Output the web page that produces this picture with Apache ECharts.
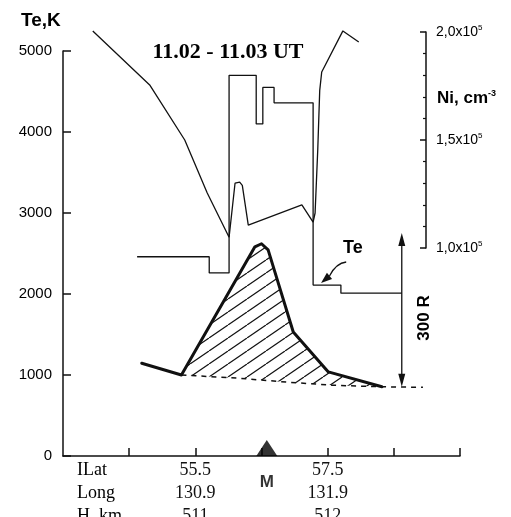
<!DOCTYPE html>
<html><head><meta charset="utf-8">
<script src="https://cdn.jsdelivr.net/npm/echarts@6/dist/echarts.min.js"></script>
<style>html,body{margin:0;padding:0;background:#fff}#c{width:511px;height:517px}</style>
</head><body><div id="c"></div>
<script>
// ---- data (x = invariant latitude ILat, deg) ----
// Electron temperature Te, K (step profile)
const teX = [54.62, 55.71, 56.01, 56.42, 56.52, 56.69, 57.28, 57.70, 58.62];
const teK = [2460, 2260, 4700, 4100, 4550, 4360, 2110, 2010, 2010];
// Ion density Ni, units of 1e5 cm^-3
const niX = [53.95, 54.81, 55.34, 55.68, 56.01, 56.10, 56.17, 56.21, 56.30, 57.11, 57.28, 57.31, 57.35, 57.38, 57.41, 57.73, 57.97];
const niV = [2.005, 1.755, 1.50, 1.255, 1.05, 1.30, 1.305, 1.29, 1.106, 1.20, 1.12, 1.162, 1.454, 1.73, 1.815, 2.005, 1.954];
// Emission intensity, R (bold curve) and background level (dashed)
const emX = [54.69, 55.29, 56.40, 56.50, 56.60, 56.98, 57.51, 58.32];
const emR = [181, 158, 408, 414, 402, 242, 164, 135];
const bgX = [55.29, 56.13, 56.89, 57.58, 58.32, 58.94];
const bgR = [158, 152, 144, 138, 135, 134];
// 300 R scale bar: x, from, to
const barX = 58.62;
const barR = [135, 435];
// axis ticks / labels
const teTicks = [0, 1000, 2000, 3000, 4000, 5000];
const niTicks = [1.0, 1.5, 2.0];
const xTicks = [54.5, 55.5, 56.5, 57.5, 58.5, 59.5];
const ilatLabels = [55.5, 57.5];
const longLabels = ['130.9', '131.9'];
const hLabels = ['511', '512'];
const rowHeads = ['ILat', 'Long', 'H, km'];
// station mark M
const mPos = [56.58, 0];
// "Te" pointer: label, arrow start, arrow tip (ILat, K)
const teLabelAt = [57.88, 2568];
const teArrowFrom = [57.78, 2395];
const teArrowTip = [57.40, 2136];

const SANS = 'Liberation Sans', SERIF = 'Liberation Serif';

// hatch pattern
const hc = document.createElement('canvas');
const HW = 19, HH = 13;
hc.width = HW; hc.height = HH;
const hx = hc.getContext('2d');
hx.strokeStyle = '#111'; hx.lineWidth = 1.2;
for (let k = -1; k <= 1; k++) { hx.beginPath(); hx.moveTo(k * HW, HH); hx.lineTo((k + 1) * HW, 0); hx.stroke(); }
const hatch = { image: hc, repeat: 'repeat' };

const chart = echarts.init(document.getElementById('c'), null, { renderer: 'canvas' });

const option = {
  backgroundColor: '#fff',
  animation: false,
  grid: [
    { left: 63, right: 51, top: 51, bottom: 61, containLabel: false, outerBoundsMode: 'none' },
    { left: 63, right: 51, top: 32, bottom: 269, containLabel: false, outerBoundsMode: 'none' }
  ],
  xAxis: [
    {
      type: 'value', gridIndex: 0, min: 53.5, max: 59.5,
      axisLine: { show: true, lineStyle: { color: '#111', width: 1.5 } },
      axisTick: { show: true, inside: true, length: 8, customValues: xTicks, lineStyle: { color: '#111', width: 1.5 } },
      axisLabel: {
        show: true, customValues: ilatLabels, margin: 3,
        fontFamily: SERIF, fontSize: 18, color: '#111', lineHeight: 23,
        formatter: v => {
          const i = ilatLabels.findIndex(t => Math.abs(t - v) < 1e-6);
          if (i < 0) return '';
          return ilatLabels[i].toFixed(1) + '\n' + longLabels[i] + '\n' + hLabels[i];
        }
      },
      splitLine: { show: false }
    },
    { type: 'value', gridIndex: 1, min: 53.5, max: 59.5, show: false }
  ],
  yAxis: [
    {
      type: 'value', gridIndex: 0, min: 0, max: 5000, interval: 1000,
      axisLine: { show: true, lineStyle: { color: '#111', width: 1.5 } },
      axisTick: { show: true, inside: true, length: 8, lineStyle: { color: '#111', width: 1.5 } },
      axisLabel: { margin: 11, fontFamily: SANS, fontSize: 15, color: '#000', formatter: v => String(v) },
      splitLine: { show: false }
    },
    { type: 'value', gridIndex: 0, min: 0, max: 790, show: false },
    {
      type: 'value', gridIndex: 1, position: 'right', offset: -34, min: 1.0, max: 2.0, interval: 0.5,
      axisLine: { show: true, lineStyle: { color: '#111', width: 1.5 } },
      axisTick: { show: true, inside: true, length: 6, lineStyle: { color: '#111', width: 1.5 } },
      minorTick: { show: true, splitNumber: 5, length: 3, lineStyle: { color: '#111', width: 1.2 } },
      axisLabel: {
        margin: 10, color: '#111',
        formatter: v => '{a|' + v.toFixed(1).replace('.', ',') + 'x10}{s|5}',
        rich: {
          a: { fontFamily: SANS, fontSize: 14, color: '#000', lineHeight: 16 },
          s: { fontFamily: SANS, fontSize: 8, color: '#000', verticalAlign: 'top', lineHeight: 16 }
        }
      },
      splitLine: { show: false }
    }
  ],
  series: [
    {
      name: 'hatch', type: 'custom', xAxisIndex: 0, yAxisIndex: 1, silent: true, z: 1,
      data: [[emX[1], emR[1]]],
      renderItem: (params, api) => {
        const pts = [];
        for (let i = 1; i < emX.length; i++) pts.push(api.coord([emX[i], emR[i]]));
        const xEnd = emX[emX.length - 1];
        for (let i = bgX.length - 1; i >= 0; i--) if (bgX[i] <= xEnd + 1e-6) pts.push(api.coord([bgX[i], bgR[i]]));
        return { type: 'polygon', shape: { points: pts }, style: { fill: hatch, stroke: null } };
      }
    },
    {
      name: 'background', type: 'line', xAxisIndex: 0, yAxisIndex: 1, symbol: 'none', z: 2,
      data: bgX.map((x, i) => [x, bgR[i]]),
      lineStyle: { color: '#111', width: 1.5, type: [5, 5] }
    },
    {
      name: 'emission', type: 'line', xAxisIndex: 0, yAxisIndex: 1, symbol: 'none', z: 3,
      data: emX.map((x, i) => [x, emR[i]]),
      lineStyle: { color: '#111', width: 3, join: 'round', cap: 'round' }
    },
    {
      name: 'Te', type: 'line', xAxisIndex: 0, yAxisIndex: 0, symbol: 'none', step: 'end', z: 4,
      data: teX.map((x, i) => [x, teK[i]]),
      lineStyle: { color: '#111', width: 1.3 }
    },
    {
      name: 'Ni', type: 'line', xAxisIndex: 1, yAxisIndex: 2, symbol: 'none', clip: false, z: 4,
      data: niX.map((x, i) => [x, niV[i]]),
      lineStyle: { color: '#111', width: 1.3 }
    },
    {
      name: 'M', type: 'scatter', xAxisIndex: 0, yAxisIndex: 0, clip: false, z: 6,
      symbol: 'triangle', symbolSize: [21, 16], symbolOffset: [0, -8],
      itemStyle: { color: '#000' },
      data: [mPos],
      label: { show: true, position: 'bottom', distance: 18, formatter: 'M', fontFamily: SANS, fontWeight: 'bold', fontSize: 17, color: '#000' }
    }
  ]
};
chart.setOption(option);

// annotations
const px = p => chart.convertToPixel({ xAxisIndex: 0, yAxisIndex: 0 }, p);
const pr = p => chart.convertToPixel({ xAxisIndex: 0, yAxisIndex: 1 }, p);
const a0 = px(teArrowFrom), a1 = px(teArrowTip), lab = px(teLabelAt);
const dx = a1[0] - a0[0], dy = a1[1] - a0[1];
const len = Math.hypot(dx, dy), ux = dx / len, uy = dy / len;
const headL = 11, headW = 4;
const base = [a1[0] - ux * headL, a1[1] - uy * headL];
const ctrl = [a0[0] - 10, a0[1] + 1];
// scale bar
const b0 = pr([barX, barR[0]]), b1 = pr([barX, barR[1]]);
const bh = 13, bw = 3.5;
const graphics = [
  { type: 'text', left: 21, top: 11, style: { text: 'Te,K', font: 'bold 19px "' + SANS + '"', fill: '#000' } },
  { type: 'text', x: 228, y: 52, style: { text: '11.02 - 11.03 UT', font: 'bold 22px "' + SERIF + '"', fill: '#000', align: 'center', verticalAlign: 'middle' } },
  { type: 'text', x: 437, y: 98, style: { text: '{a|Ni, cm}{s|-3}', fill: '#000', verticalAlign: 'middle',
      rich: { a: { font: 'bold 17px "' + SANS + '"', lineHeight: 18 }, s: { font: 'bold 9px "' + SANS + '"', verticalAlign: 'top', lineHeight: 18 } } } },
  { type: 'text', x: lab[0], y: lab[1], style: { text: 'Te', font: 'bold 18px "' + SANS + '"', fill: '#000', align: 'center', verticalAlign: 'middle' } },
  { type: 'bezierCurve', shape: { x1: a0[0], y1: a0[1], cpx1: ctrl[0], cpy1: ctrl[1], x2: base[0], y2: base[1] }, style: { stroke: '#111', lineWidth: 1.3, fill: null } },
  { type: 'polygon', shape: { points: [a1, [base[0] - uy * headW, base[1] + ux * headW], [base[0] + uy * headW, base[1] - ux * headW]] }, style: { fill: '#111' } },
  { type: 'line', shape: { x1: b0[0], y1: b0[1] - 4, x2: b1[0], y2: b1[1] + 4 }, style: { stroke: '#111', lineWidth: 1.3 } },
  { type: 'polygon', shape: { points: [b1, [b1[0] - bw, b1[1] + bh], [b1[0] + bw, b1[1] + bh]] }, style: { fill: '#111' } },
  { type: 'polygon', shape: { points: [b0, [b0[0] - bw, b0[1] - bh], [b0[0] + bw, b0[1] - bh]] }, style: { fill: '#111' } },
  { type: 'text', x: 424, y: 318, rotation: Math.PI / 2, style: { text: '300 R', font: 'bold 17px "' + SANS + '"', fill: '#000', align: 'center', verticalAlign: 'middle' } }
];
rowHeads.forEach((t, i) => graphics.push({ type: 'text', x: 77, y: 470 + 23 * i, style: { text: t, font: '18px "' + SERIF + '"', fill: '#000', verticalAlign: 'middle' } }));
chart.setOption({ graphic: graphics });
</script></body></html>
